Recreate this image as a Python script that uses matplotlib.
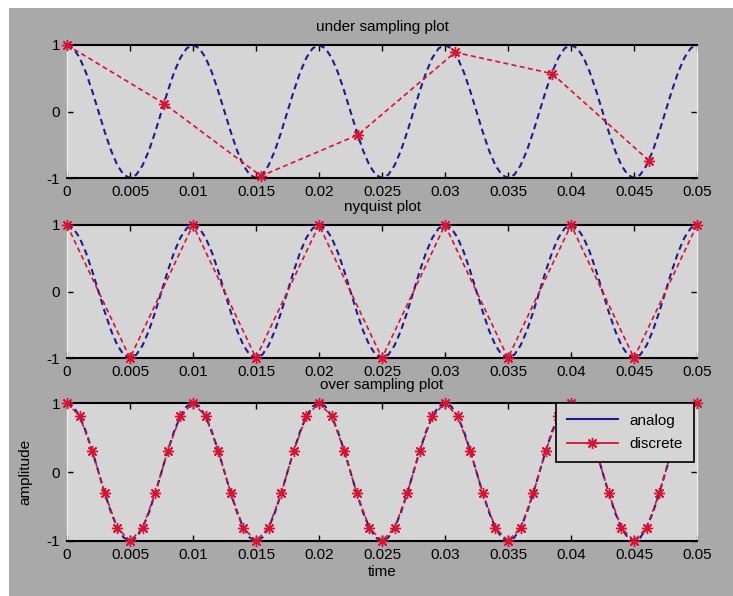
import numpy as np
import matplotlib
matplotlib.use('Agg')
import matplotlib.pyplot as plt
from matplotlib.lines import Line2D
from matplotlib.patches import Rectangle

plt.rcParams['font.family'] = ['Liberation Sans', 'DejaVu Sans']
plt.rcParams['font.size'] = 11

# analog signal: one cycle (20 steps of 0.0005 s), five cycles shown
analog_cycle = [1, 0.951, 0.809, 0.588, 0.309, 0, -0.309, -0.588, -0.809, -0.951,
                -1, -0.951, -0.809, -0.588, -0.309, 0, 0.309, 0.588, 0.809, 0.951]
analog_t = np.arange(101) * 0.0005
analog_y = np.array(analog_cycle * 5 + [1])

# under sampling (about 130 samples/s)
under_t = [0, 0.0077, 0.0154, 0.0231, 0.0308, 0.0385, 0.0462]
under_y = [1, 0.12, -0.97, -0.35, 0.89, 0.57, -0.74]

# nyquist sampling (200 samples/s)
nyq_t = [0, 0.005, 0.01, 0.015, 0.02, 0.025, 0.03, 0.035, 0.04, 0.045, 0.05]
nyq_y = [1, -1, 1, -1, 1, -1, 1, -1, 1, -1, 1]

# over sampling (1000 samples/s)
over_cycle = [1, 0.81, 0.31, -0.31, -0.81, -1, -0.81, -0.31, 0.31, 0.81]
over_t = np.arange(51) * 0.001
over_y = np.array(over_cycle * 5 + [1])

xticks = [0, 0.005, 0.01, 0.015, 0.02, 0.025, 0.03, 0.035, 0.04, 0.045, 0.05]
xlabels = ['0', '0.005', '0.01', '0.015', '0.02', '0.025', '0.03', '0.035', '0.04', '0.045', '0.05']
yticks = [-1, 0, 1]
ylabels = ['-1', '0', '1']

titles = ['under sampling plot', 'nyquist plot', 'over sampling plot']
panels = [(under_t, under_y), (nyq_t, nyq_y), (over_t, over_y)]

BLUE = '#1c1c9a'
RED = '#dc1030'
FIG_GRAY = '#a9a9a9'
AX_GRAY = '#d5d5d5'
star = (8, 2, 0)

fig = plt.figure(figsize=(7.33, 5.96), dpi=100, facecolor='white')
fig.add_artist(Rectangle((9 / 733, 0), 1 - 9 / 733, 1 - 8 / 596,
                         transform=fig.transFigure, facecolor=FIG_GRAY,
                         edgecolor='none', zorder=-10))

positions = [[0.0914, 0.7013, 0.8595, 0.2232],
             [0.0914, 0.3993, 0.8595, 0.2232],
             [0.0914, 0.0923, 0.8595, 0.2315]]

for i, (pos, (st, sy), title) in enumerate(zip(positions, panels, titles)):
    ax = fig.add_axes(pos, facecolor=AX_GRAY)
    ax.plot(analog_t, analog_y, linestyle='--', dashes=(3, 2), color=BLUE, lw=1.5, zorder=2)
    ax.plot(st, sy, linestyle='--', dashes=(3, 2), color=RED, lw=1.2, marker=star,
            markersize=8, markeredgewidth=1.0, markeredgecolor=RED, zorder=3, clip_on=False)
    ax.set_xlim(0, 0.05)
    ax.set_ylim(-1, 1)
    ax.set_xticks(xticks)
    ax.set_xticklabels(xlabels)
    ax.set_yticks(yticks)
    ax.set_yticklabels(ylabels)
    ax.tick_params(direction='in', length=4, width=1, top=True, right=True, pad=5,
                   labelsize=11, colors='black')
    for side in ['top', 'bottom']:
        ax.spines[side].set_color('black')
        ax.spines[side].set_linewidth(1.5)
    for side in ['left', 'right']:
        ax.spines[side].set_color('#ececec')
        ax.spines[side].set_linewidth(1)
    ax.set_title(title, fontsize=11, pad=10)

    if i == 2:
        ax.set_xlabel('time', fontsize=11, labelpad=2)
        ax.set_ylabel('amplitude', fontsize=11, labelpad=10)
        handles = [Line2D([], [], color=BLUE, lw=1.5),
                   Line2D([], [], color=RED, lw=1.3, marker=star, markersize=8,
                          markeredgewidth=1.0)]
        leg = ax.legend(handles, ['analog', 'discrete'], loc='upper right',
                        bbox_to_anchor=(0.995, 1.0), frameon=True, fancybox=False,
                        fontsize=11, borderpad=0.7, handlelength=3.3,
                        labelspacing=0.6, borderaxespad=0)
        leg.get_frame().set_facecolor(AX_GRAY)
        leg.get_frame().set_edgecolor('black')
        leg.get_frame().set_linewidth(1.2)
        leg.get_frame().set_alpha(1)
        leg.set_zorder(10)

fig.savefig('out.png', dpi=100, facecolor=fig.get_facecolor())
